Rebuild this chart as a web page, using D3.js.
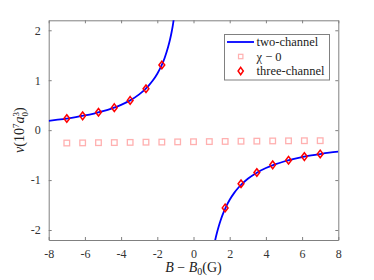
<!DOCTYPE html>
<html>
<head>
<meta charset="utf-8">
<script src="https://cdn.jsdelivr.net/npm/d3@7"></script>
<style>
  body { margin: 0; background: #fff; }
  text { font-family: "Liberation Serif", "DejaVu Serif", serif; }
</style>
</head>
<body>
<script>
// values

// two-channel curve, left branch (B - B0, nu)
const leftB   = [-8, -7.5, -7, -6.5, -6, -5.5, -5, -4.5, -4, -3.5, -3, -2.5, -2.25, -2, -1.75, -1.6, -1.5, -1.4, -1.3, -1.2, -1.12, -1.08];
const leftNu  = [0.187, 0.209, 0.233, 0.261, 0.294, 0.333, 0.379, 0.436, 0.506, 0.596, 0.716, 0.883, 0.993, 1.131, 1.306, 1.44, 1.55, 1.67, 1.81, 1.98, 2.15, 2.26];

// two-channel curve, right branch
const rightB  = [1.15, 1.2, 1.3, 1.4, 1.5, 1.6, 1.77, 2, 2.25, 2.5, 3, 3.5, 4, 4.5, 5, 5.5, 6, 6.5, 7, 7.5, 8];
const rightNu = [-2.29, -2.2, -2.05, -1.92, -1.805, -1.703, -1.556, -1.395, -1.256, -1.144, -0.974, -0.852, -0.759, -0.687, -0.628, -0.581, -0.541, -0.507, -0.478, -0.452, -0.43];

// chi -> 0 squares
const chiB  = [-7, -6.125, -5.25, -4.375, -3.5, -2.625, -1.75, -0.875, 0, 0.875, 1.75, 2.625, 3.5, 4.375, 5.25, 6.125, 7];
const chiNu = [-0.258, -0.255, -0.251, -0.249, -0.245, -0.241, -0.239, -0.235, -0.232, -0.229, -0.226, -0.222, -0.22, -0.216, -0.214, -0.212, -0.211];

// three-channel diamonds
const threeB  = [-7, -6.125, -5.25, -4.375, -3.5, -2.625, -1.75, 1.75, 2.625, 3.5, 4.375, 5.25, 6.125, 7];
const threeNu = [0.233, 0.286, 0.358, 0.451, 0.596, 0.829, 1.306, -1.557, -1.073, -0.848, -0.695, -0.602, -0.53, -0.477];

const xTicks = [-8, -6, -4, -2, 0, 2, 4, 6, 8];
const yTicks = [-2, -1, 0, 1, 2];
const legendLabels = ["two-channel", "χ − 0", "three-channel"];

const W = 374, H = 280;
const box = {left: 48.7, right: 338.3, top: 20.3, bottom: 240};
const axisColor = "#808080";
const serif = "'Liberation Serif', 'DejaVu Serif', serif";

const svg = d3.select("body").append("svg")
  .attr("width", W)
  .attr("height", H);

const x = d3.scaleLinear().domain([-8, 8]).range([box.left, box.right]);
const y = d3.scaleLinear().domain([-2.2, 2.2]).range([box.bottom, box.top]);

svg.append("defs").append("clipPath").attr("id", "clip")
  .append("rect")
    .attr("x", box.left).attr("y", box.top)
    .attr("width", box.right - box.left)
    .attr("height", box.bottom - box.top);

// axes, ticks inside on all four sides
function drawAxes() {
  const fmt = d => String(d);   // plain hyphen like the reference
  const bottom = svg.append("g")
    .attr("transform", `translate(0,${box.bottom})`)
    .call(d3.axisBottom(x).tickValues(xTicks).tickFormat(fmt).tickSizeInner(-3).tickSizeOuter(0).tickPadding(9));
  const top = svg.append("g")
    .attr("transform", `translate(0,${box.top})`)
    .call(d3.axisTop(x).tickValues(xTicks).tickSizeInner(-3).tickSizeOuter(0).tickFormat(""));
  const left = svg.append("g")
    .attr("transform", `translate(${box.left},0)`)
    .call(d3.axisLeft(y).tickValues(yTicks).tickFormat(fmt).tickSizeInner(-3).tickSizeOuter(0).tickPadding(8));
  const right = svg.append("g")
    .attr("transform", `translate(${box.right},0)`)
    .call(d3.axisRight(y).tickValues(yTicks).tickSizeInner(-3).tickSizeOuter(0).tickFormat(""));

  [bottom, top, left, right].forEach(g => {
    g.attr("font-family", serif).attr("font-size", 12);
    g.select(".domain").attr("stroke", axisColor);
    g.selectAll(".tick line").attr("stroke", axisColor);
    g.selectAll(".tick text").attr("fill", "#333");
  });
}

function drawData() {
  const line = d3.line()
    .x(d => x(d[0]))
    .y(d => y(d[1]))
    .curve(d3.curveMonotoneX);

  const plot = svg.append("g").attr("clip-path", "url(#clip)");

  [d3.zip(leftB, leftNu), d3.zip(rightB, rightNu)].forEach(pts => {
    plot.append("path")
      .datum(pts)
      .attr("d", line)
      .attr("fill", "none")
      .attr("stroke", "#0000ff")
      .attr("stroke-width", 1.8);
  });

  plot.selectAll("rect.chi")
    .data(d3.zip(chiB, chiNu))
    .enter()
      .append("rect")
        .attr("class", "chi")
        .attr("x", d => x(d[0]) - 2.8)
        .attr("y", d => y(d[1]) - 2.8)
        .attr("width", 5.6)
        .attr("height", 5.6)
        .attr("fill", "none")
        .attr("stroke", "#ffb0b0")
        .attr("stroke-width", 1.3);

  const diamond = "M0,-3.8L2.9,0L0,3.8L-2.9,0Z";
  plot.selectAll("path.three")
    .data(d3.zip(threeB, threeNu))
    .enter()
      .append("path")
        .attr("class", "three")
        .attr("d", diamond)
        .attr("transform", d => `translate(${x(d[0])},${y(d[1])})`)
        .attr("fill", "none")
        .attr("stroke", "#ff0000")
        .attr("stroke-width", 1.5);
}

function drawLabels() {
  svg.append("text")
    .attr("x", (box.left + box.right) / 2)
    .attr("y", 272)
    .attr("text-anchor", "middle")
    .style("font-size", "14px")
    .attr("fill", "#222")
    .html('<tspan font-style="italic">B</tspan> − <tspan font-style="italic">B</tspan><tspan font-size="10px" dy="3">0</tspan><tspan dy="-3">(G)</tspan>');

  svg.append("text")
    .attr("transform", `translate(24,${(box.top + box.bottom) / 2}) rotate(-90)`)
    .attr("text-anchor", "middle")
    .style("font-size", "14px")
    .attr("fill", "#222")
    .html('<tspan font-style="italic">ν</tspan>(10<tspan font-size="9px" dy="-5">7</tspan><tspan dy="5" font-style="italic">a</tspan><tspan font-size="9px" dy="-5">3</tspan><tspan font-size="9px" dx="-4.5" dy="9">0</tspan><tspan dy="-4">)</tspan>');
}

function drawLegend() {
  const lg = svg.append("g");
  lg.append("rect")
    .attr("x", 224.5).attr("y", 34.5)
    .attr("width", 105).attr("height", 45.5)
    .attr("fill", "#fff")
    .attr("stroke", axisColor);

  const rowY = [42, 56.5, 71];
  lg.append("line")
    .attr("x1", 227).attr("x2", 254)
    .attr("y1", rowY[0]).attr("y2", rowY[0])
    .attr("stroke", "#0000ff").attr("stroke-width", 1.8);
  lg.append("rect")
    .attr("x", 238.5).attr("y", rowY[1] - 2.2)
    .attr("width", 4.4).attr("height", 4.4)
    .attr("fill", "none").attr("stroke", "#ffb0b0").attr("stroke-width", 1.2);
  lg.append("path")
    .attr("d", "M0,-3.6L2.6,0L0,3.6L-2.6,0Z")
    .attr("transform", `translate(240.7,${rowY[2]})`)
    .attr("fill", "none").attr("stroke", "#ff0000").attr("stroke-width", 1.5);

  lg.selectAll("text.lab")
    .data(legendLabels)
    .enter()
      .append("text")
        .attr("class", "lab")
        .attr("x", 256.5)
        .attr("y", (d, i) => rowY[i] + 4)
        .style("font-size", "12.5px")
        .attr("fill", "#222")
        .text(d => d);
}

drawAxes();
drawData();
drawLabels();
drawLegend();
</script>
</body>
</html>
